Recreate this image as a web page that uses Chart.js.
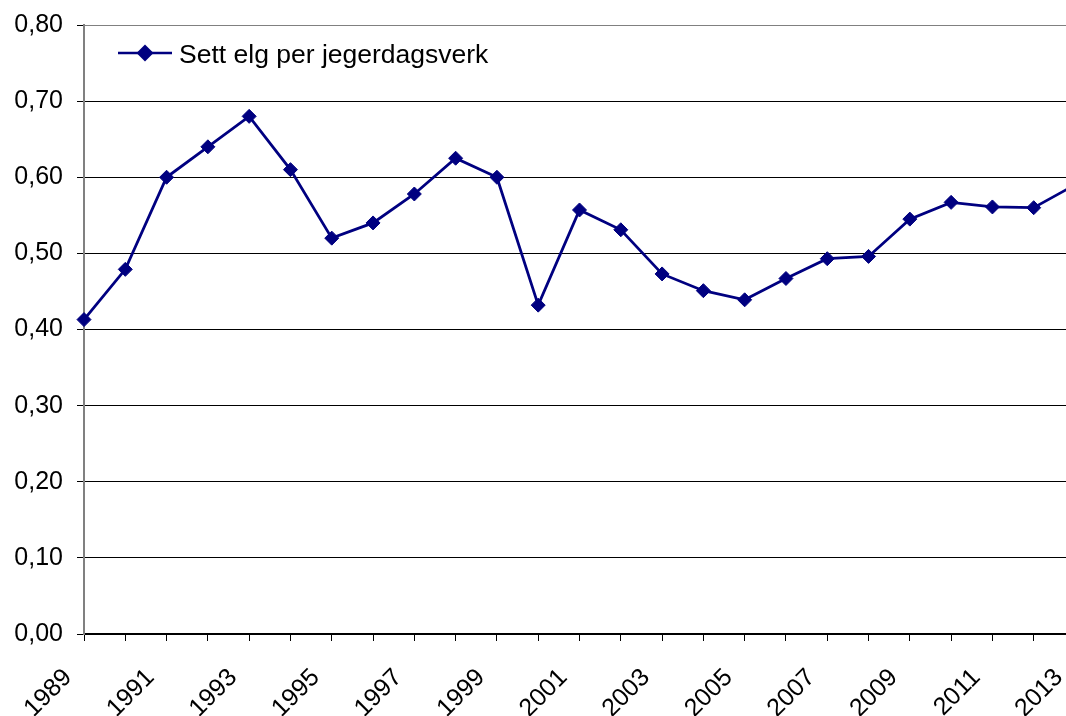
<!DOCTYPE html>
<html lang="no">
  <head>
    <meta charset="utf-8" />
    <title>Sett elg per jegerdagsverk</title>
    <style>
      * {
        margin: 0;
        padding: 0;
      }
      body {
        width: 1066px;
        height: 716px;
        overflow: hidden;
        background: #fff;
      }
      canvas {
        display: block;
      }
    </style>
  </head>
  <body>
    <canvas id="myChart" width="1120" height="716"></canvas>
    <script src="https://cdn.jsdelivr.net/npm/chart.js"></script>
    <script>
      // data
      const years = [
        "1989", "1990", "1991", "1992", "1993", "1994", "1995", "1996", "1997",
        "1998", "1999", "2000", "2001", "2002", "2003", "2004", "2005", "2006",
        "2007", "2008", "2009", "2010", "2011", "2012", "2013",
      ];
      const settElg = [
        0.413, 0.479, 0.6, 0.64, 0.68, 0.61, 0.52, 0.54, 0.578, 0.625, 0.6,
        0.432, 0.557, 0.531, 0.473, 0.451, 0.439, 0.467, 0.493, 0.496, 0.545,
        0.567, 0.561, 0.56, 0.59,
      ];
      const seriesName = "Sett elg per jegerdagsverk";
      const yTicks = [0, 0.1, 0.2, 0.3, 0.4, 0.5, 0.6, 0.7, 0.8];

      const navy = "#000080";
      const family = "Arial, 'Liberation Sans', sans-serif";
      const font = { family: family, size: 25 };

      // legend drawn inside the plot area, top left
      const insideLegend = {
        id: "insideLegend",
        afterDraw(chart) {
          const ctx = chart.ctx;
          const x0 = 118, x1 = 172, y = 53;
          ctx.save();
          ctx.strokeStyle = navy;
          ctx.lineWidth = 2.5;
          ctx.beginPath();
          ctx.moveTo(x0, y);
          ctx.lineTo(x1, y);
          ctx.stroke();
          const cx = (x0 + x1) / 2, r = 8.5;
          ctx.fillStyle = navy;
          ctx.beginPath();
          ctx.moveTo(cx - r, y);
          ctx.lineTo(cx, y - r);
          ctx.lineTo(cx + r, y);
          ctx.lineTo(cx, y + r);
          ctx.closePath();
          ctx.fill();
          ctx.fillStyle = "#000";
          ctx.font = "26.5px " + family;
          ctx.textBaseline = "alphabetic";
          ctx.fillText(seriesName, 179, 63);
          ctx.restore();
        },
      };

      const config = {
        type: "line",
        data: {
          labels: years,
          datasets: [
            {
              label: seriesName,
              data: settElg,
              borderColor: navy,
              backgroundColor: navy,
              borderWidth: 2.8,
              tension: 0,
              pointStyle: "rectRot",
              pointRadius: 7,
              pointBorderWidth: 1,
              pointBackgroundColor: navy,
              pointBorderColor: navy,
            },
          ],
        },
        options: {
          responsive: false,
          animation: false,
          layout: { padding: { left: 0, top: 25, right: 45, bottom: 0 } },
          plugins: {
            legend: { display: false },
            tooltip: { enabled: false },
          },
          scales: {
            x: {
              type: "category",
              offset: false,
              afterFit(scale) {
                scale.height = 82;
                scale.paddingLeft = 0;
                scale.paddingRight = 0;
              },
              grid: {
                drawOnChartArea: false,
                drawTicks: true,
                tickLength: 7,
                tickColor: "#000",
                lineWidth: 1,
              },
              border: { color: "#000", width: 1.5 },
              ticks: {
                autoSkip: false,
                maxRotation: 45,
                minRotation: 45,
                padding: 22,
                labelOffset: -16,
                color: "#000",
                font: font,
                callback: (v, i) => (i % 2 === 0 ? years[i] : ""),
              },
            },
            y: {
              min: 0,
              max: 0.8,
              afterFit(scale) {
                scale.width = 84;
                scale.paddingTop = 0;
                scale.paddingBottom = 0;
              },
              afterBuildTicks(scale) {
                scale.ticks = yTicks.map((v) => ({ value: v }));
              },
              grid: {
                color: (c) => (c.tick && c.tick.value === 0.8 ? "#808080" : "#000"),
                lineWidth: 1,
                tickLength: 7,
                tickColor: "#000",
              },
              border: { color: "#808080", width: 2 },
              ticks: {
                padding: 14,
                color: "#000",
                font: font,
                callback: (v) => Number(v).toFixed(2).replace(".", ","),
              },
            },
          },
        },
        plugins: [insideLegend],
      };

      const myChart = new Chart(document.getElementById("myChart"), config);
    </script>
  </body>
</html>
